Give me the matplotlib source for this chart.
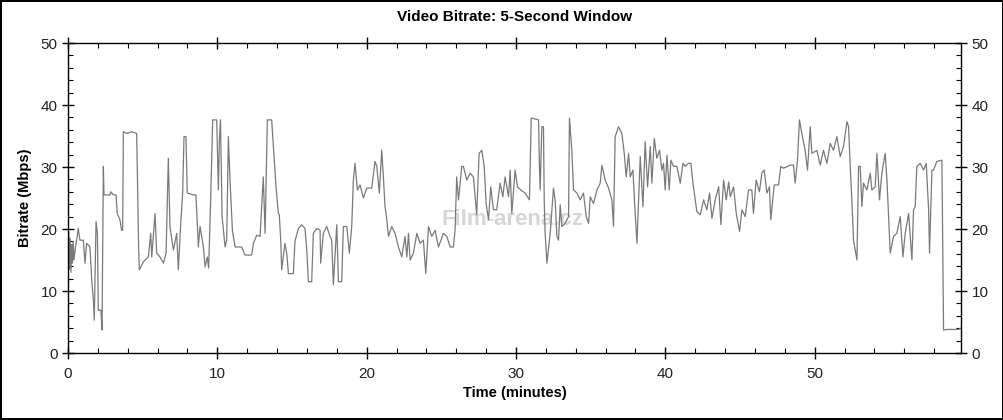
import matplotlib
matplotlib.use("Agg")
import matplotlib.pyplot as plt
from matplotlib.ticker import MultipleLocator

plt.rcParams['font.family'] = ['Liberation Sans', 'DejaVu Sans']

# time in minutes, bitrate in Mbps
time_min = [
    0.00, 0.05, 0.10, 0.15, 0.20, 0.25, 0.30, 0.35, 0.40, 0.50, 0.60, 0.69, 0.80, 1.03, 1.14, 1.25,
    1.47, 1.59, 1.70, 1.76, 1.88, 1.97, 2.03, 2.21, 2.28, 2.37, 2.41, 2.81, 2.86, 3.04, 3.22, 3.30,
    3.48, 3.59, 3.66, 3.71, 3.93, 4.26, 4.60, 4.64, 4.73, 4.78, 5.05, 5.38, 5.54, 5.61, 5.83, 5.94,
    6.16, 6.39, 6.57, 6.72, 6.83, 7.06, 7.28, 7.39, 7.55, 7.68, 7.77, 7.90, 7.99, 8.40, 8.57, 8.73,
    8.84, 9.07, 9.18, 9.33, 9.42, 9.56, 9.69, 9.96, 10.07, 10.14, 10.21, 10.32, 10.52, 10.63, 10.74,
    10.85, 11.01, 11.19, 11.63, 11.86, 12.30, 12.42, 12.64, 12.86, 13.08, 13.20, 13.35, 13.64, 13.93,
    14.09, 14.15, 14.25, 14.31, 14.53, 14.65, 14.76, 15.09, 15.20, 15.43, 15.65, 15.87, 15.99, 16.10,
    16.32, 16.43, 16.66, 16.88, 16.92, 17.10, 17.33, 17.55, 17.66, 17.77, 18.00, 18.11, 18.33, 18.44,
    18.67, 18.84, 19.00, 19.11, 19.22, 19.38, 19.56, 19.78, 20.01, 20.34, 20.56, 20.68, 20.85, 21.01,
    21.12, 21.23, 21.35, 21.46, 21.68, 21.90, 22.13, 22.35, 22.57, 22.69, 22.80, 22.91, 23.13, 23.36,
    23.58, 23.80, 23.96, 24.14, 24.36, 24.58, 24.81, 25.14, 25.37, 25.59, 25.81, 25.92, 26.03, 26.15,
    26.37, 26.48, 26.70, 26.93, 27.15, 27.37, 27.53, 27.71, 27.87, 28.00, 28.16, 28.31, 28.49, 28.71,
    28.94, 29.12, 29.27, 29.50, 29.61, 29.72, 29.94, 30.10, 30.32, 30.61, 30.90, 31.02, 31.51, 31.57,
    31.62, 31.73, 31.84, 31.89, 31.95, 32.07, 32.29, 32.51, 32.62, 32.74, 32.85, 32.96, 33.07, 33.29,
    33.52, 33.58, 33.74, 33.85, 34.08, 34.30, 34.52, 34.70, 34.86, 34.97, 35.19, 35.42, 35.64, 35.75,
    35.97, 36.20, 36.42, 36.53, 36.64, 36.87, 37.09, 37.25, 37.38, 37.54, 37.65, 37.83, 37.98, 38.10,
    38.32, 38.50, 38.65, 38.81, 38.99, 39.10, 39.26, 39.43, 39.61, 39.77, 39.88, 39.99, 40.11, 40.26,
    40.37, 40.55, 40.77, 41.00, 41.18, 41.33, 41.56, 41.71, 41.85, 42.00, 42.11, 42.34, 42.56, 42.78,
    42.96, 43.12, 43.34, 43.57, 43.72, 43.90, 44.08, 44.24, 44.35, 44.57, 44.75, 44.97, 45.13, 45.35,
    45.57, 45.79, 45.90, 46.08, 46.30, 46.46, 46.62, 46.80, 46.97, 47.06, 47.29, 47.58, 47.73, 47.91,
    48.36, 48.58, 48.69, 48.85, 48.98, 49.14, 49.36, 49.52, 49.70, 49.81, 50.15, 50.37, 50.59, 50.82,
    51.04, 51.26, 51.49, 51.71, 51.93, 52.16, 52.27, 52.38, 52.49, 52.60, 52.83, 52.94, 53.05, 53.16,
    53.27, 53.50, 53.72, 53.83, 54.05, 54.17, 54.34, 54.50, 54.72, 54.84, 55.06, 55.28, 55.50, 55.73,
    55.91, 56.06, 56.29, 56.51, 56.62, 56.73, 56.84, 57.07, 57.29, 57.47, 57.63, 57.69, 57.85, 57.96,
    58.18, 58.52, 58.63, 58.85, 59.30, 59.64, 59.75,
]
bitrate = [
    14.0, 19.5, 13.5, 18.5, 13.0, 17.5, 14.5, 18.0, 15.0, 17.0, 18.5, 20.1, 18.2, 18.2, 14.5, 17.7,
    17.1, 11.8, 8.6, 5.3, 21.2, 19.3, 6.9, 6.9, 3.7, 30.1, 25.5, 25.5, 26.0, 25.5, 25.5, 22.5,
    21.5, 19.8, 19.8, 35.7, 35.4, 35.7, 35.4, 30.1, 17.1, 13.4, 14.7, 15.5, 19.3, 15.5, 22.5, 16.1,
    15.5, 14.5, 16.1, 31.4, 20.4, 16.6, 19.3, 13.4, 20.9, 25.8, 34.9, 34.9, 25.8, 25.5, 25.5, 17.1,
    20.4, 17.1, 13.9, 15.5, 13.7, 25.2, 37.6, 37.6, 26.3, 34.4, 37.6, 22.0, 17.1, 18.2, 34.9,
    27.9, 19.8, 17.1, 17.1, 15.8, 15.8, 17.7, 19.0, 18.8, 28.4, 19.3, 37.6, 37.6, 26.8,
    22.5, 22.3, 18.0, 13.4, 17.7, 16.1, 12.8, 12.8, 18.0, 20.1, 20.7, 20.1, 16.6, 11.5,
    11.5, 19.3, 20.1, 19.8, 14.5, 19.3, 20.4, 18.8, 18.2, 11.0, 20.7, 11.5, 11.5, 20.4,
    20.4, 16.1, 20.4, 27.9, 30.6, 26.3, 27.1, 25.0, 26.6, 26.6, 30.9, 30.1, 25.8, 32.7,
    28.4, 23.6, 21.5, 18.8, 20.4, 19.3, 17.1, 15.5, 18.8, 15.5, 19.3, 15.0, 16.1, 19.3,
    17.7, 18.2, 12.8, 20.4, 18.8, 19.8, 17.1, 19.3, 18.8, 17.1, 17.1, 19.8, 28.4, 24.7,
    30.1, 30.1, 27.9, 29.0, 28.4, 22.3, 32.2, 32.7, 30.1, 24.1, 21.5, 26.8, 23.1, 23.1,
    27.4, 25.2, 28.4, 25.2, 29.5, 22.5, 29.5, 26.8, 26.3, 25.8, 24.7, 37.9, 37.6, 30.1,
    26.3, 36.5, 36.5, 24.7, 19.3, 14.5, 19.3, 26.6, 24.7, 18.8, 18.2, 23.9, 20.4, 20.9,
    22.0, 37.9, 32.7, 26.3, 25.8, 24.7, 25.8, 22.0, 20.9, 25.2, 24.1, 26.3, 27.4, 30.3,
    27.9, 26.6, 24.7, 20.4, 34.9, 36.5, 35.4, 32.2, 28.4, 32.2, 28.4, 29.5, 22.5, 17.7,
    31.7, 23.6, 34.1, 26.8, 33.3, 27.4, 34.6, 31.4, 32.7, 29.5, 30.6, 26.3, 31.9, 26.3,
    31.1, 30.1, 30.1, 27.4, 30.6, 30.1, 30.6, 30.6, 27.4, 24.7, 22.8, 22.3, 24.7, 23.1,
    25.8, 21.7, 24.7, 26.8, 20.7, 27.9, 24.7, 27.6, 25.2, 26.8, 22.5, 19.6, 23.1, 22.0,
    26.3, 26.3, 22.5, 27.9, 26.0, 29.0, 29.5, 25.8, 26.8, 21.5, 27.1, 27.1, 30.1, 29.8,
    30.3, 30.3, 27.4, 31.1, 37.6, 35.4, 32.7, 29.5, 36.5, 32.2, 32.7, 30.3, 32.7, 30.6,
    33.8, 32.7, 34.9, 31.7, 33.3, 37.3, 36.5, 30.1, 24.7, 18.2, 15.0, 30.1, 30.1, 23.6,
    27.4, 26.3, 29.0, 26.3, 26.8, 32.2, 24.7, 29.0, 32.2, 27.9, 16.1, 18.8, 19.3, 22.0,
    15.5, 19.3, 22.5, 15.0, 23.1, 23.6, 30.1, 30.6, 29.5, 30.6, 23.1, 16.1, 29.5, 29.5,
    30.9, 31.1, 3.7, 3.8, 3.8, 3.8, 4.0,
]

fig = plt.figure(figsize=(10.04, 4.2), dpi=100, edgecolor='black', linewidth=1.5)
ax = fig.add_axes([0.0677, 0.1595, 0.8895, 0.7381])

# watermark
ax.text(0.498, 0.43, "Film-arena.cz", transform=ax.transAxes, ha='center', va='center',
        fontsize=16, fontweight='bold', color='#d6d6d6', zorder=0)

ax.plot(time_min, bitrate, color='#7a7a7a', linewidth=0.9, zorder=2)

ax.set_xlim(0, 59.8)
ax.set_ylim(0, 50)
ax.xaxis.set_major_locator(MultipleLocator(10))
ax.xaxis.set_minor_locator(MultipleLocator(2))
ax.yaxis.set_major_locator(MultipleLocator(10))
ax.yaxis.set_minor_locator(MultipleLocator(2))

ax.tick_params(which='major', direction='inout', length=8, width=1, labelsize=11,
               top=True, right=True, labelright=True, color='black', labelcolor='#222222')
ax.tick_params(which='minor', direction='in', length=3.5, width=0.8, top=True, right=True)
ax.tick_params(axis='x', which='major', pad=6)

for s in ax.spines.values():
    s.set_color('black')
    s.set_linewidth(1)

ax.set_title("Video Bitrate: 5-Second Window", fontsize=11, fontweight='bold', pad=16)
ax.set_xlabel("Time (minutes)", fontsize=10.5, fontweight='bold', labelpad=4)
ax.set_ylabel("Bitrate (Mbps)", fontsize=10.5, fontweight='bold', labelpad=6)

fig.savefig("out.png", dpi=100)
